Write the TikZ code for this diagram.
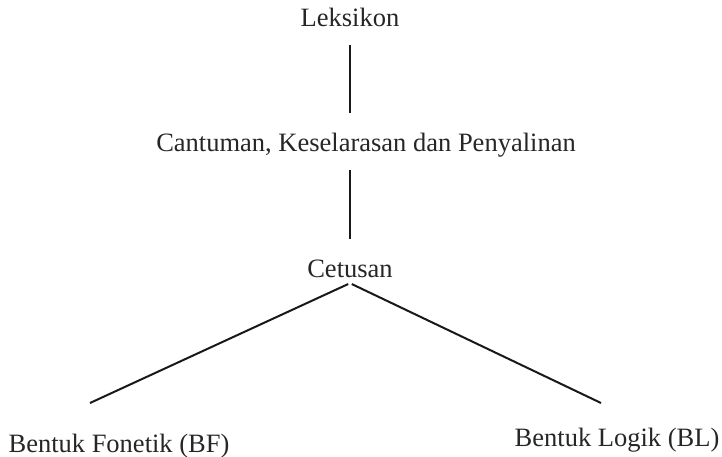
\documentclass[tikz,border=0pt]{standalone}
\usepackage{fontspec}
\setmainfont{Liberation Serif}
\usetikzlibrary{positioning}
\tikzset{
  lbl/.style={inner sep=0pt,anchor=base,text height=18pt,text depth=6pt,
              font=\fontsize{26.5}{30}\selectfont,text=black!85},
  garis/.style={line width=2pt,black!90},
}
\begin{document}
\begin{tikzpicture}[x=1pt,y=-1pt]
    \useasboundingbox (0,0) rectangle (722,457);
    % tingkat atas
    \node[lbl] (lek) at (350,27) {Leksikon};
    \node[lbl] (cant) at (366,152) {Cantuman, Keselarasan dan Penyalinan};
    \node[lbl] (cet) at (350,277) {Cetusan};
    % dua cabang bawah
    \node[lbl] (bf) at (119,452) {Bentuk Fonetik (BF)};
    \node[lbl] (bl) at (617,446) {Bentuk Logik (BL)};
    \coordinate (bfend) at (90,403);
    \coordinate (blend) at (601,403);
    \draw[garis,shorten <=12pt,shorten >=21pt] (lek.south) -- (cant.north -| lek.south);
    \draw[garis,shorten <=12pt,shorten >=20pt] (cant.south -| lek.south) -- (cet.north);
    \draw[garis,shorten <=2pt] (cet.south) -- (bfend);
    \draw[garis,shorten <=2pt] (cet.south) -- (blend);
  \end{tikzpicture}
\end{document}
